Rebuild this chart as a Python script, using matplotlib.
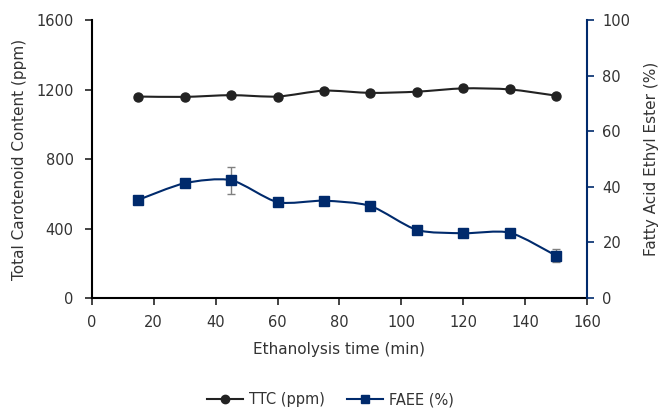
import numpy as np
import matplotlib.pyplot as plt
from matplotlib.path import Path
from matplotlib.patches import PathPatch
from matplotlib.lines import Line2D

plt.rcParams['font.family'] = ['Verdana', 'DejaVu Sans']

time_min = [15, 30, 45, 60, 75, 90, 105, 120, 135, 150]
ttc_ppm = [1160, 1158, 1168, 1160, 1194, 1181, 1188, 1207, 1201, 1165]
ttc_err = [8, 8, 8, 8, 8, 8, 8, 8, 8, 8]
faee_pct = [35.3, 41.3, 42.4, 34.5, 35.0, 33.1, 24.5, 23.3, 23.5, 15.2]
faee_err = [0.5, 0.5, 4.9, 0.5, 0.5, 0.5, 0.5, 0.5, 0.5, 2.3]

navy = '#002a6c'


def smooth_path(xs, ys, t=0.13):
    # smoothed line: cubic Bezier through each point
    xs = np.asarray(xs, float)
    ys = np.asarray(ys, float)
    verts = [(xs[0], ys[0])]
    codes = [Path.MOVETO]
    n = len(xs)
    for i in range(n - 1):
        p0 = (xs[max(i - 1, 0)], ys[max(i - 1, 0)])
        p1 = (xs[i], ys[i])
        p2 = (xs[i + 1], ys[i + 1])
        p3 = (xs[min(i + 2, n - 1)], ys[min(i + 2, n - 1)])
        c1 = (p1[0] + (p2[0] - p0[0]) * t, p1[1] + (p2[1] - p0[1]) * t)
        c2 = (p2[0] - (p3[0] - p1[0]) * t, p2[1] - (p3[1] - p1[1]) * t)
        verts += [c1, c2, p2]
        codes += [Path.CURVE4] * 3
    return Path(verts, codes)


fig = plt.figure(figsize=(6.65, 4.11), dpi=100)
ax = fig.add_axes([0.138, 0.275, 0.745, 0.676])
ax2 = ax.twinx()

ax.add_patch(PathPatch(smooth_path(time_min, ttc_ppm), fill=False,
                       edgecolor='#222222', lw=1.5, zorder=2))
ax.errorbar(time_min, ttc_ppm, yerr=ttc_err, fmt='o', color='#222222',
            ms=6.5, ecolor='#808080', elinewidth=1, capsize=3, zorder=3)

ax2.add_patch(PathPatch(smooth_path(time_min, faee_pct), fill=False,
                        edgecolor=navy, lw=1.5, zorder=2))
ax2.errorbar(time_min, faee_pct, yerr=faee_err, fmt='s', color=navy,
             ms=6.5, ecolor='#808080', elinewidth=1, capsize=3, zorder=3)

ax.set_xlim(0, 160)
ax.set_ylim(0, 1600)
ax2.set_ylim(0, 100)
ax.set_xticks(range(0, 161, 20))
ax.set_yticks(range(0, 1601, 400))
ax2.set_yticks(range(0, 101, 20))

for a in (ax, ax2):
    a.spines['top'].set_visible(False)
ax.spines['right'].set_visible(False)
ax.spines['left'].set_linewidth(1.5)
ax.spines['bottom'].set_linewidth(1.5)
ax2.spines['left'].set_visible(False)
ax2.spines['bottom'].set_visible(False)
ax2.spines['right'].set_color(navy)
ax2.spines['right'].set_linewidth(1.5)

ax.tick_params(axis='both', direction='out', length=5, width=1.2,
               labelsize=10.5, colors='#222222', labelcolor='#333333')
ax.tick_params(axis='y', pad=8)
ax.tick_params(axis='x', pad=7)
ax2.tick_params(axis='y', direction='out', length=5, width=1.2, pad=6,
                labelsize=10.5, colors=navy, labelcolor='#333333')

ax.set_xlabel('Ethanolysis time (min)', fontsize=11, color='#333333', labelpad=9)
ax.set_ylabel('Total Carotenoid Content (ppm)', fontsize=11, color='#333333', labelpad=7)
ax2.set_ylabel('Fatty Acid Ethyl Ester (%)', fontsize=11, color='#333333', labelpad=10)

handles = [Line2D([], [], color='#222222', marker='o', ms=6, lw=1.5),
           Line2D([], [], color=navy, marker='s', ms=6, lw=1.5)]
fig.legend(handles, ['TTC (ppm)', 'FAEE (%)'], loc='center',
           bbox_to_anchor=(0.497, 0.027), ncol=2, frameon=False,
           fontsize=10.5, handlelength=2.5, columnspacing=1.5, handletextpad=0.4,
           labelcolor='#333333')

fig.savefig('out.png', dpi=100)
